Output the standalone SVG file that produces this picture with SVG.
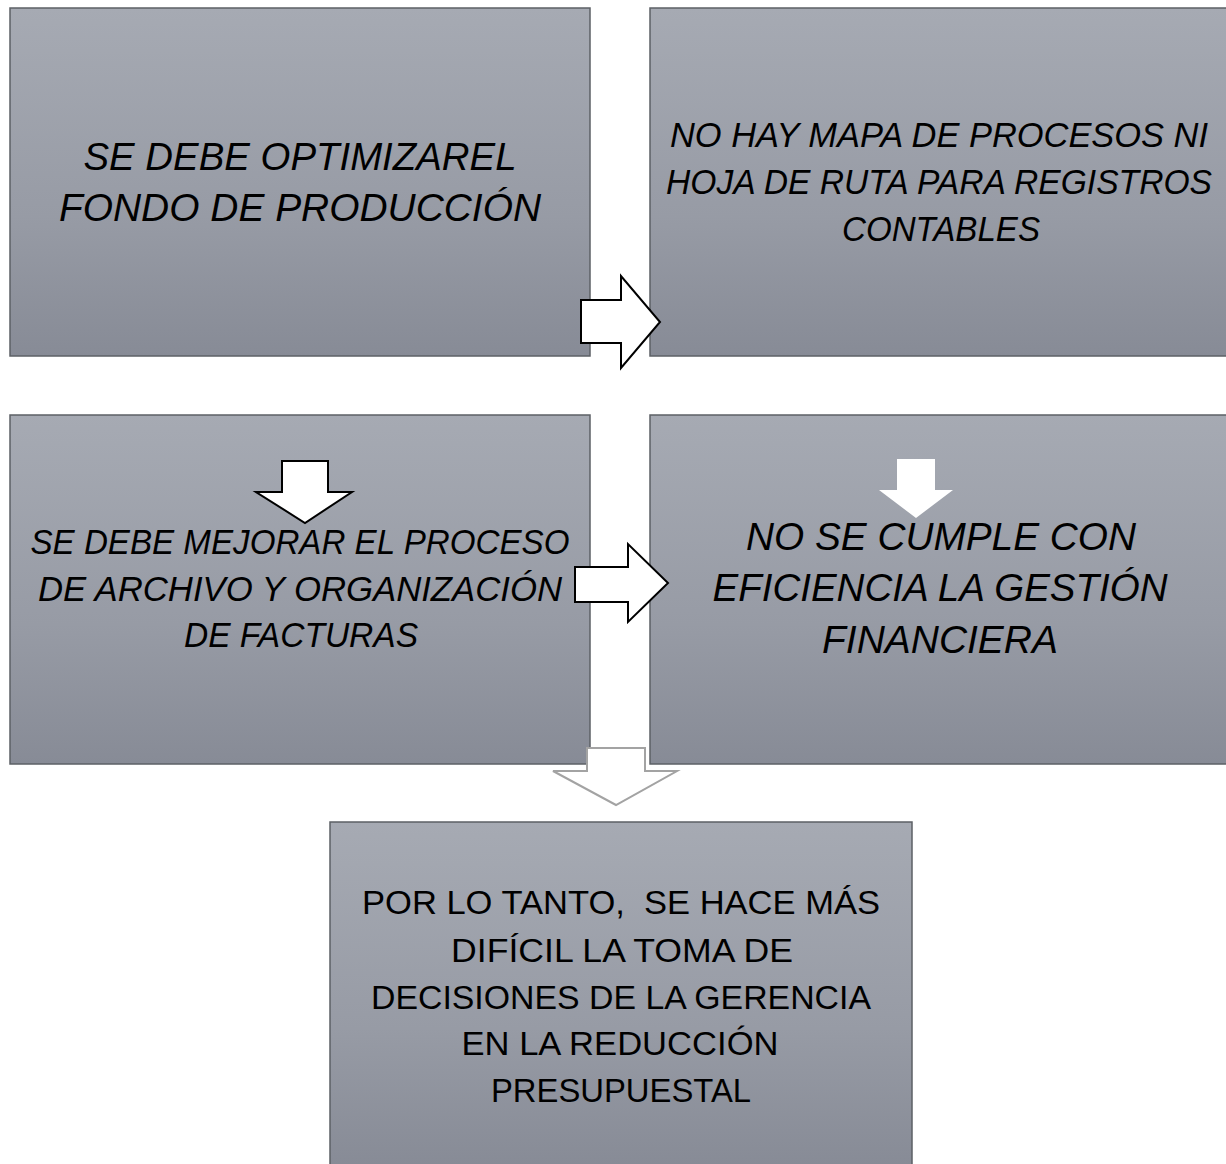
<svg xmlns="http://www.w3.org/2000/svg" width="1226" height="1164" viewBox="0 0 1226 1164">
<defs>
<linearGradient id="g" x1="0" y1="0" x2="0" y2="1">
<stop offset="0" stop-color="#a6aab3"/>
<stop offset="0.6" stop-color="#979ba5"/>
<stop offset="1" stop-color="#878b96"/>
</linearGradient>
<style>
.box{fill:url(#g);stroke:#5c6066;stroke-width:1.5}
.t{font-family:"Liberation Sans",Arial,sans-serif;font-style:italic;fill:#000;text-anchor:middle}
.n{font-family:"Liberation Sans",Arial,sans-serif;fill:#000;text-anchor:middle}
.ab{fill:#fff;stroke:#000;stroke-width:2;stroke-linejoin:miter}
</style>
</defs>
<rect width="1226" height="1164" fill="#fff"/>
<g id="node1">
<rect class="box" x="10" y="8" width="580" height="348"/>
<text class="t" font-size="38"><tspan x="300" y="170" textLength="433" lengthAdjust="spacingAndGlyphs">SE DEBE OPTIMIZAREL</tspan><tspan x="300" y="221" textLength="482" lengthAdjust="spacingAndGlyphs">FONDO DE PRODUCCIÓN</tspan></text>
</g>
<g id="node2">
<rect class="box" x="650" y="8" width="578" height="348"/>
<text class="t" font-size="35"><tspan x="939" y="147" textLength="538" lengthAdjust="spacingAndGlyphs">NO HAY MAPA DE PROCESOS NI</tspan><tspan x="939" y="194" textLength="546" lengthAdjust="spacingAndGlyphs">HOJA DE RUTA PARA REGISTROS</tspan><tspan x="941" y="241" textLength="198" lengthAdjust="spacingAndGlyphs">CONTABLES</tspan></text>
</g>
<g id="node3">
<rect class="box" x="10" y="415" width="580" height="349"/>
<text class="t" font-size="35"><tspan x="300" y="554" textLength="539" lengthAdjust="spacingAndGlyphs">SE DEBE MEJORAR EL PROCESO</tspan><tspan x="300" y="601" textLength="524" lengthAdjust="spacingAndGlyphs">DE ARCHIVO Y ORGANIZACIÓN</tspan><tspan x="301" y="647" textLength="234" lengthAdjust="spacingAndGlyphs">DE FACTURAS</tspan></text>
</g>
<g id="node4">
<rect class="box" x="650" y="415" width="578" height="349"/>
<text class="t" font-size="38"><tspan x="941" y="550" textLength="390" lengthAdjust="spacingAndGlyphs">NO SE CUMPLE CON</tspan><tspan x="940" y="601" textLength="455" lengthAdjust="spacingAndGlyphs">EFICIENCIA LA GESTIÓN</tspan><tspan x="940" y="653" textLength="236" lengthAdjust="spacingAndGlyphs">FINANCIERA</tspan></text>
</g>
<g id="node5">
<rect class="box" x="330" y="822" width="582" height="344"/>
<text class="n" font-size="34"><tspan x="621" y="914" textLength="518" lengthAdjust="spacingAndGlyphs">POR LO TANTO, &#160;SE HACE MÁS</tspan><tspan x="622" y="962" textLength="342" lengthAdjust="spacingAndGlyphs">DIFÍCIL LA TOMA DE</tspan><tspan x="621" y="1009" textLength="500" lengthAdjust="spacingAndGlyphs">DECISIONES DE LA GERENCIA</tspan><tspan x="620" y="1055" textLength="317" lengthAdjust="spacingAndGlyphs">EN LA REDUCCIÓN</tspan><tspan x="621" y="1102" textLength="260" lengthAdjust="spacingAndGlyphs">PRESUPUESTAL</tspan></text>
</g>
<g id="connectors">
<polygon class="ab" points="581,300 621,300 621,276 660,322 621,368 621,343 581,343"/>
<polygon class="ab" stroke-width="1.5" points="282,461 328,461 328,492 352,492 305,523 256,492 282,492"/>
<polygon class="ab" points="575,567 628,567 628,544 668,583 628,622 628,602 575,602"/>
<polygon fill="#fff" points="897,459 935,459 935,490 953,490 916,518 879,490 897,490"/>
<polygon fill="#fff" stroke="#a3a3a3" stroke-width="2" points="587,748 645,748 645,771 677,771 616,805 553,771 587,771"/>
</g>
</svg>
